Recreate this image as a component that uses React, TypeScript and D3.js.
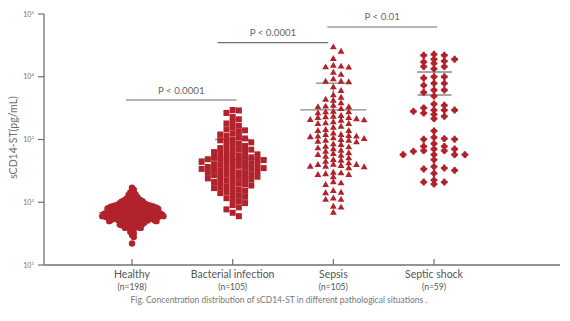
import React from "react";
import * as d3 from "d3";

const categories = ["Healthy", "Bacterial infection", "Sepsis", "Septic shock"];
const counts = ["(n=198)", "(n=105)", "(n=105)", "(n=59)"];

const healthy = [
  170, 158, 148,
  143, 138, 134, 131, 127, 124, 121, 118,
  116, 115, 113, 112, 110, 109, 108, 107, 106, 105, 104, 103, 102, 101, 100, 99, 98, 97, 97, 96, 95, 94,
  93, 93, 92, 92, 91, 91, 90, 90, 89, 89, 89, 88, 88, 87, 87, 86, 86, 86, 85, 85, 84, 84, 84, 83, 83,
  82, 82, 82, 81, 81, 80, 80, 80, 79, 79, 78, 78, 78, 77, 77, 76, 76, 76, 75, 75,
  74, 74, 74, 73, 73, 73, 72, 72, 72, 71, 71, 71, 70, 70, 70, 70, 69, 69, 69, 68, 68, 68, 68, 67, 67,
  67, 66, 66, 66, 66, 65, 65, 65, 64, 64, 64, 64, 63, 63, 63, 62, 62, 62, 62, 61, 61, 61, 61, 60, 60,
  61, 60, 60, 60, 60,
  59, 59, 59, 58, 58, 58, 58, 57, 57, 57, 56, 56, 56, 56, 55, 55, 55, 54, 54, 54,
  54, 53, 53, 53, 52, 52, 52, 52, 51, 51, 51, 50, 50, 50, 50, 49, 49, 49, 48, 48,
  47, 47, 46, 46, 45, 45, 44, 44, 43, 43, 42, 42, 41, 41, 40, 40, 39, 39,
  38, 36, 34, 32, 30, 28,
  22,
];

const bacterial = [
  2950, 2900, 2650, 2300,
  2100, 1900, 1800, 1650, 1550, 1450,
  1400, 1320, 1250, 1200, 1140, 1080, 1040, 1000,
  970, 930, 900, 860, 820, 790, 760, 730, 700, 690,
  670, 650, 630, 610, 600, 580, 560, 550, 530, 520, 510, 500, 490, 485, 475, 470,
  460, 450, 440, 430, 420, 410, 405, 395, 390, 380, 370, 365, 355, 350, 345, 340, 335, 330,
  320, 315, 305, 300, 295, 290, 280, 275, 270, 262, 255, 250, 245, 240, 235, 230,
  222, 215, 210, 203, 198, 192, 185, 180, 175, 168, 163, 158,
  152, 146, 140, 134, 128, 122, 116, 110,
  104, 97, 90, 83, 77,
  68, 60,
];

const sepsis = [
  29400, 25100, 19200, 15000, 14500, 14100, 14000, 11600, 10700, 9100,
  8340, 8340, 8170, 6790, 5930, 5060, 4640, 4310, 4150, 3780,
  3460, 3340, 3260, 3260, 3060, 2770, 2710, 2710, 2610, 2370,
  2310, 2260, 2200, 2200, 2100, 2050, 2020, 1990, 1880, 1810,
  1770, 1770, 1600, 1540, 1420, 1370, 1370, 1250, 1180, 1180,
  1140, 1110, 1110, 1085, 1045, 1020, 982, 957, 957, 923,
  902, 838, 817, 767, 751, 724, 698, 663, 639, 603,
  587, 566, 552, 532, 501, 471, 459, 443, 417, 397,
  392, 392, 378, 369, 369, 361, 348, 296, 289, 279,
  272, 272, 250, 208, 200, 188, 151, 142, 139, 115,
  109, 109, 85, 82, 68,
];

const septicShock = [
  22800, 22000, 22000, 19000, 19000, 17800, 17200, 16400, 14500, 14500,
  13400, 10000, 10000, 9550, 7860, 7860, 7310, 6150, 6150, 5650,
  4930, 3680, 3510, 3180, 2950, 2950, 2950, 2810, 2640, 2520,
  2340, 2150, 1370, 1085, 1030, 1010, 1010, 857, 779, 779,
  706, 706, 663, 663, 648, 573, 573, 573, 573, 476,
  369, 351, 339, 323, 289, 226, 210, 210, 195,
];

const centerLine = [68, 490, 2960, 5120];
const upperLine = [85, 1000, 7940, 11900];
const yTicks = [10, 100, 1000, 10000, 100000];

const compLabels = ["P < 0.0001", "P < 0.0001", "P < 0.01"];
const compFrom = [0, 1, 2];
const compTo = [1, 2, 3];
const compLevel = [4260, 34900, 62100];

const RED = "#b1232c";
const GREY = "#707070";
const FONT = "Lato, 'Open Sans', sans-serif";

type P = { v: number; y: number; x: number };

function swarm(vals: number[], cx: number, dx: number, dy: number, y: (v: number) => number): P[] {
  const pts = vals.map((v) => ({ v, y: y(v), x: cx })).sort((a, b) => a.y - b.y);
  const placed: P[] = [];
  for (const p of pts) {
    for (let k = 0; k < 400; k++) {
      const off = k === 0 ? 0 : k % 2 === 1 ? Math.ceil(k / 2) : -Math.ceil(k / 2);
      const x = cx + off * dx;
      const hit = placed.some((q) => Math.abs(q.x - x) < dx / 2 && Math.abs(q.y - p.y) < dy);
      if (!hit) {
        placed.push({ ...p, x });
        break;
      }
    }
  }
  return placed;
}

export default function App() {
  const y = d3.scaleLog().domain([10, 100000]).range([265, 14]);
  const x = d3.scalePoint<string>().domain(categories).range([132, 434]);
  const groups = [healthy, bacterial, sepsis, septicShock];
  const spacing = [
    [1.75, 3.6],
    [6.2, 5.2],
    [7.7, 4.6],
    [10.3, 4.0],
  ];
  const swarms = groups.map((g, i) => swarm(g, x(categories[i])!, spacing[i][0], spacing[i][1], (v) => y(v)));

  const tri = d3.symbol(d3.symbolTriangle, 20)()!;
  const sq = d3.symbol(d3.symbolSquare, 36)()!;
  const cross = d3.symbol(d3.symbolCross, 26)()!;

  const centerHalf = [33, 34, 33, 17];
  const centerShift = [0, 0, 0, 0.5];
  const compDx1 = [-6, -15, -6];
  const compDx2 = [4, -5, 3];

  const marker = (i: number, p: P, k: number) => {
    if (i === 0) return <circle key={k} cx={p.x} cy={p.y} r={3.2} fill={RED} />;
    if (i === 1) return <path key={k} d={sq} transform={`translate(${p.x},${p.y})`} fill={RED} />;
    if (i === 2) return <path key={k} d={tri} transform={`translate(${p.x},${p.y})`} fill={RED} />;
    return (
      <g key={k} transform={`translate(${p.x},${p.y})`} fill={RED}>
        <circle r={2.6} />
        <path d={cross} />
      </g>
    );
  };

  return (
    <svg width={570} height={321} style={{ position: "fixed", left: 0, top: 0, background: "#fff" }}>
      {/* y axis */}
      <line x1={44} x2={44} y1={y(100000)} y2={y(10)} stroke={GREY} strokeWidth={1.3} />
      {yTicks.map((t) => (
        <g key={t}>
          <line x1={38} x2={44} y1={y(t)} y2={y(t)} stroke={GREY} strokeWidth={1.2} />
          <text x={34} y={y(t) + 2.5} fontSize={7} fill={GREY} textAnchor="end" fontFamily={FONT}>
            10
            <tspan fontSize={4.5} dy={-3}>
              {Math.round(Math.log10(t))}
            </tspan>
          </text>
        </g>
      ))}
      <text
        transform={`translate(16.5,137.5) rotate(-90)`}
        textAnchor="middle"
        fontSize={10.5}
        fill={GREY}
        fontFamily={FONT}
      >
        sCD14-ST(pg/mL)
      </text>
      {/* x axis */}
      <line x1={44} x2={560} y1={y(10)} y2={y(10)} stroke={GREY} strokeWidth={1.3} />
      {categories.map((c, i) => (
        <g key={c}>
          <line x1={x(c)} x2={x(c)} y1={y(10)} y2={y(10) - 6} stroke={GREY} strokeWidth={1.2} />
          <text x={x(c)} y={277.5} textAnchor="middle" fontSize={10.5} fill="#555" fontFamily={FONT}>
            {c}
          </text>
          <text x={x(c)} y={290} textAnchor="middle" fontSize={8.5} fill="#555" fontFamily={FONT}>
            {counts[i]}
          </text>
        </g>
      ))}
      <text x={279} y={303} textAnchor="middle" fontSize={8.5} fill="#777" fontFamily={FONT}>
        Fig. Concentration distribution of sCD14-ST in different pathological situations .
      </text>
      {/* comparisons */}
      {compLabels.map((l, i) => {
        const x1 = x(categories[compFrom[i]])! + compDx1[i];
        const x2 = x(categories[compTo[i]])! + compDx2[i];
        const yy = y(compLevel[i]);
        return (
          <g key={i}>
            <line x1={x1} x2={x2} y1={yy} y2={yy} stroke={GREY} strokeWidth={1.2} />
            <text x={(x1 + x2) / 2} y={yy - 6.5} textAnchor="middle" fontSize={9.7} fill="#666" fontFamily={FONT}>
              {l}
            </text>
          </g>
        );
      })}
      {/* stat lines */}
      {categories.map((c, i) => {
        const cx = x(c)! + centerShift[i];
        return (
          <g key={c} stroke="#888" strokeWidth={1.3}>
            <line x1={cx - centerHalf[i]} x2={cx + centerHalf[i]} y1={y(centerLine[i])} y2={y(centerLine[i])} />
            <line x1={cx - 17.5} x2={cx + 17.5} y1={y(upperLine[i])} y2={y(upperLine[i])} />
            <line x1={cx} x2={cx} y1={y(upperLine[i])} y2={y(centerLine[i])} />
          </g>
        );
      })}
      {swarms.map((s, i) => (
        <g key={i}>{s.map((p, k) => marker(i, p, k))}</g>
      ))}
    </svg>
  );
}
